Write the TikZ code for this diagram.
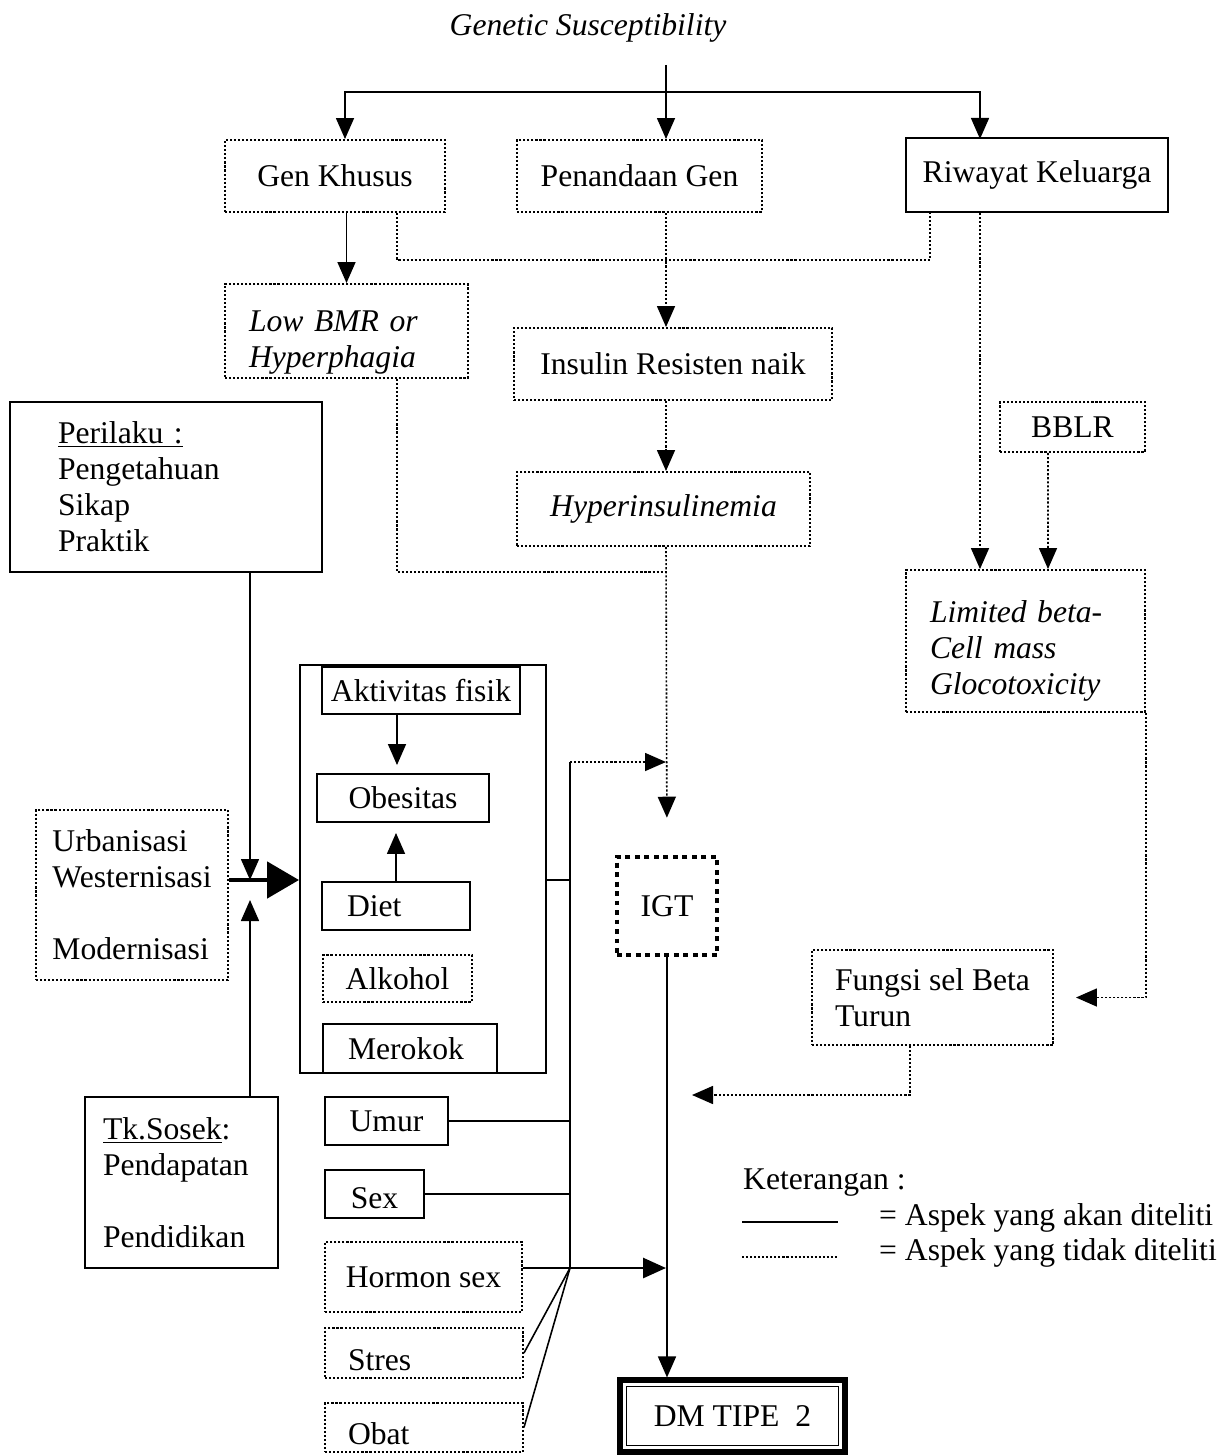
\documentclass[tikz,border=0pt]{standalone}
\usepackage{fontspec}
\setmainfont{Liberation Serif}
\usetikzlibrary{arrows.meta,calc}

\newcommand\diagfont{\fontsize{18}{20.5}\selectfont}

\begin{document}
\begin{tikzpicture}[x=0.02cm,y=-0.02cm,
    font=\diagfont,
    wh/.style 2 args={minimum width=#1*0.02cm,minimum height=#2*0.02cm},
    solidbox/.style={draw,line width=1.1pt},
    dotbox/.style={draw,line width=1.1pt,dash pattern=on 1.2pt off 1.1pt},
    itext/.style={font=\diagfont\itshape},
    plain/.style={line width=0.9pt},
    dotplain/.style={plain,dash pattern=on 1.2pt off 1.1pt},
    link/.style={plain,-{Triangle[length=0.42cm,width=0.36cm]}},
    dotlink/.style={dotplain,-{Triangle[length=0.42cm,width=0.36cm]}}]

    \useasboundingbox (0,0) rectangle (1223,1456);

    % genetic part
    \node[itext] (title) at (588,28) {Genetic Susceptibility};
    \node[dotbox,wh={220}{72}] (gen) at (335,176) {Gen Khusus};
    \node[dotbox,wh={245}{72}] (pen) at (639.5,176) {Penandaan Gen};
    \node[solidbox,wh={262}{74}] (riw) at (1037,175) {Riwayat Keluarga};
    \node[dotbox,itext,align=left,text width=3.9cm,inner xsep=0.48cm,inner ysep=2pt,minimum height=1.88cm] (low) at (346.5,331) {\rule{0pt}{25pt}Low BMR or\\Hyperphagia};
    \node[dotbox,wh={318}{72}] (ins) at (673,364) {Insulin Resisten naik};
    \node[dotbox,itext,wh={293}{74}] (hyp) at (663.5,509) {Hyperinsulinemia};
    \node[dotbox,wh={145}{50}] (bblr) at (1072.5,427) {BBLR};
    \node[dotbox,itext,align=left,text width=3.82cm,inner xsep=0.48cm,inner ysep=2pt,minimum height=2.84cm] (lim) at (1025.5,641) {\rule{0pt}{23.5pt}Limited beta-\\Cell mass\\Glocotoxicity};
    \node[dotbox,align=left,wh={241}{95}] (fun) at (932.5,997.5) {Fungsi sel Beta\\Turun};

    \coordinate (gtop) at (666,65);
    \coordinate (split) at (666,92);
    \coordinate (mid) at (666,260);
    \coordinate (join) at (666,572);

    \draw[plain] (gtop) -- (split);
    \draw[link] (split) -| ($(gen.north)+(10,0)$);
    \draw[link] (split) -- (pen.north -| split);
    \draw[link] (split) -| ($(riw.south)+(-57,-74)$);
    \draw[link] (gen.south -| low.north) -- (low.north);
    \draw[dotplain] ($(gen.south)+(62,0)$) |- (mid) -| ($(riw.south)+(-107,0)$);
    \draw[dotlink] (pen.south -| mid) -- (ins.north -| mid);
    \draw[dotlink] (ins.south -| mid) -- (hyp.north -| mid);
    \draw[dotplain] ($(low.south)+(50.5,0)$) |- (join);
    \draw[dotlink] ($(riw.south)+(-57,0)$) -- ($(lim.north)+(-45.5,0)$);
    \draw[dotlink] ($(bblr.south)+(-24.5,0)$) -- ($(lim.north)+(22.5,0)$);
    \draw[dotlink,shorten >=0.44cm] (lim.south east) |- (fun.east);

    % life style part
    \node[solidbox,align=left,text width=4.32cm,inner xsep=0.96cm,minimum height=3.4cm] (per) at (166,487) {\underline{Perilaku :}\\Pengetahuan\\Sikap\\Praktik};
    \node[dotbox,align=left,wh={192}{170}] (urb) at (132,895) {Urbanisasi\\Westernisasi\\[20.5pt]Modernisasi};
    \node[solidbox,align=left,text width=3.14cm,inner xsep=0.36cm,minimum height=3.42cm] (tk) at (181.5,1182.5) {\underline{Tk.Sosek}:\\Pendapatan\\[20.5pt]Pendidikan};
    \node[solidbox,wh={246}{408}] (life) at (423,869) {};
    \node[solidbox,wh={198}{47}] (akt) at (421,690.5) {Aktivitas fisik};
    \node[solidbox,wh={172}{48}] (obe) at (403,798) {Obesitas};
    \node[solidbox,align=left,text width=1.96cm,inner xsep=0.5cm,minimum height=0.96cm] (diet) at (396,906) {Diet};
    \node[dotbox,wh={149}{47}] (alk) at (397.5,978.5) {Alkohol};
    \node[solidbox,align=left,text width=2.48cm,inner xsep=0.5cm,minimum height=0.98cm] (mer) at (410,1048.5) {Merokok};

    \coordinate (hub) at (250,880);
    \draw[link,shorten >=0.16cm] ($(akt.south)+(-24,0)$) -- ($(obe.north)+(-6,0)$);
    \draw[link,shorten >=0.2cm] (diet.north) -- (diet.north |- obe.south);
    \draw[link] ($(per.south)+(84,0)$) -- (hub);
    \draw[line width=2.8pt,-{Triangle[length=0.64cm,width=0.72cm]}] (urb.east |- hub) -- (life.west |- hub);
    \draw[link] ($(tk.north)+(68.5,0)$) -- ($(hub)+(0,20)$);

    % other factors
    \node[solidbox,wh={123}{48}] (umur) at (386.5,1121) {Umur};
    \node[solidbox,wh={99}{48},text height=17pt] (sex) at (374.5,1194) {Sex};
    \node[dotbox,wh={197}{70}] (hor) at (423.5,1277) {Hormon sex};
    \node[dotbox,align=left,text width=3.04cm,inner xsep=0.46cm,inner ysep=2pt,minimum height=1cm,text height=20pt] (str) at (424,1353) {Stres};
    \node[dotbox,align=left,text width=3.04cm,inner xsep=0.46cm,inner ysep=2pt,minimum height=0.98cm,text height=20pt] (obat) at (424,1427.5) {Obat};

    \node[draw,line width=2.6pt,dash pattern=on 2.8pt off 2.6pt,wh={100}{98}] (igt) at (667,906) {IGT};
    \node[draw,line width=2.9pt,wh={225}{72}] (dm) at (732.5,1416) {DM TIPE\ \ 2};
    \draw[plain] ($(dm.north west)+(9,9)$) rectangle ($(dm.south east)+(-9,-9)$);

    \coordinate (bustop) at (570,762);
    \coordinate (bus) at (570,880);
    \coordinate (busbot) at (570,1268);
    \coordinate (back) at (666,1095);

    \draw[plain] (life.east |- bus) -- (bus);
    \draw[plain] (bustop) -- (busbot);
    \draw[dotlink] (bustop) -- (bustop -| mid);
    \draw[plain] (umur.east) -- (umur.east -| bus);
    \draw[plain] (sex.east) -- (sex.east -| bus);
    \draw[plain] (hor.east |- busbot) -- (busbot);
    \draw[plain] (str.east) -- (busbot);
    \draw[plain] (obat.east) -- (busbot);
    \draw[line width=1.6pt,-{Triangle[length=0.46cm,width=0.4cm]}] (busbot) -- (busbot -| mid);

    \draw[dotlink,shorten >=0.74cm] (hyp.south -| mid) -- (igt.north);
    \draw[link] (igt.south) -- (dm.north -| igt.south);
    \draw[dotlink,shorten >=0.52cm] ($(fun.south)+(-22.5,0)$) |- (back);

    % legend
    \node[anchor=west] (ket) at (737,1183) {Keterangan :};
    \node[anchor=west] (akan) at (873,1218) {= Aspek yang akan diteliti};
    \node[anchor=west] (tidak) at (873,1253) {= Aspek yang tidak diteliti};
    \draw[line width=1.6pt] ($(akan.west)+(-131,4)$) -- ($(akan.west)+(-35,4)$);
    \draw[dotplain] ($(tidak.west)+(-131,4)$) -- ($(tidak.west)+(-35,4)$);
\end{tikzpicture}
\end{document}
